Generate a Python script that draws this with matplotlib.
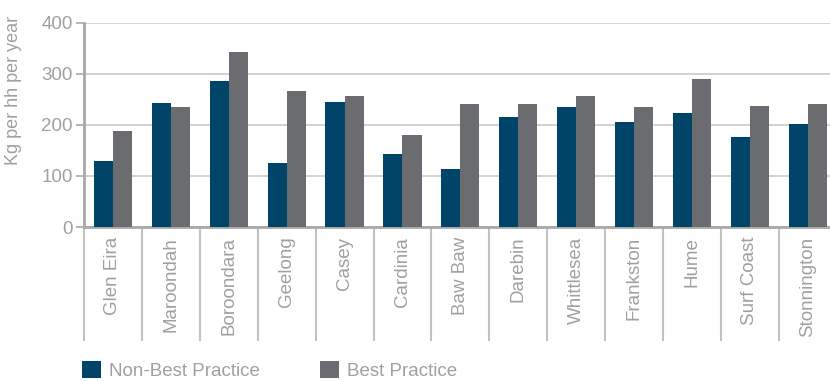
import matplotlib
matplotlib.use("Agg")
import matplotlib.pyplot as plt
import numpy as np
from matplotlib.patches import Patch

categories = ["Glen Eira", "Maroondah", "Boroondara", "Geelong", "Casey", "Cardinia",
              "Baw Baw", "Darebin", "Whittlesea", "Frankston", "Hume", "Surf Coast", "Stonnington"]
non_best = [130, 242, 285, 125, 244, 142, 113, 215, 234, 205, 224, 177, 201]
best = [187, 234, 342, 267, 256, 181, 240, 240, 256, 234, 289, 236, 240]
series_names = ["Non-Best Practice", "Best Practice"]
yticks = [0, 100, 200, 300, 400]

BLUE = "#00446A"
GRAY = "#6B6C70"
TXT = "#A0A0A0"

plt.rcParams['font.family'] = ['Liberation Sans', 'DejaVu Sans']

fig = plt.figure(figsize=(8.30, 3.81), dpi=100)
ax = fig.add_axes([84/830, 154/381, 752.7/830, 204.4/381])

x = np.arange(len(categories))
w = 0.33
ax.bar(x - w/2, non_best, width=w, color=BLUE, zorder=3)
ax.bar(x + w/2, best, width=w, color=GRAY, zorder=3)

ax.set_xlim(-0.5, len(categories) - 0.5)
ax.set_ylim(0, 400)
ax.set_yticks(yticks)
ax.yaxis.grid(True, color="#CACACA", linewidth=1.2, zorder=0)
ax.set_axisbelow(True)

for s in ["top", "right"]:
    ax.spines[s].set_visible(False)
ax.spines["left"].set_color("#A8A8A8")
ax.spines["left"].set_linewidth(2)
ax.spines["bottom"].set_color("#A8A8A8")
ax.spines["bottom"].set_linewidth(2)

ax.tick_params(axis="y", colors="#A8A8A8", labelcolor=TXT, labelsize=13.5,
               length=6, width=1.2, pad=2)
ax.set_xticks(x)
ax.set_xticklabels(categories, rotation=90, fontsize=13.5, color=TXT)
ax.tick_params(axis="x", length=0, pad=7)
ax.set_xticks(np.arange(-0.5, len(categories)), minor=True)
ax.tick_params(axis="x", which="minor", length=82, width=1.5, color="#C2C2C2")

ax.set_ylabel("Kg per hh per year", fontsize=13, color=TXT, labelpad=6)
ax.yaxis.set_label_coords(-0.083, 0.67)

handles = [Patch(facecolor=BLUE), Patch(facecolor=GRAY)]
fig.legend(handles, series_names, loc="lower left", bbox_to_anchor=(82/830, 1/381),
           ncol=2, frameon=False, fontsize=13.5, labelcolor=TXT,
           borderpad=0, borderaxespad=0,
           handlelength=1.0, handleheight=1.0, handletextpad=0.45, columnspacing=3.2)

fig.savefig("out.png", dpi=100)
